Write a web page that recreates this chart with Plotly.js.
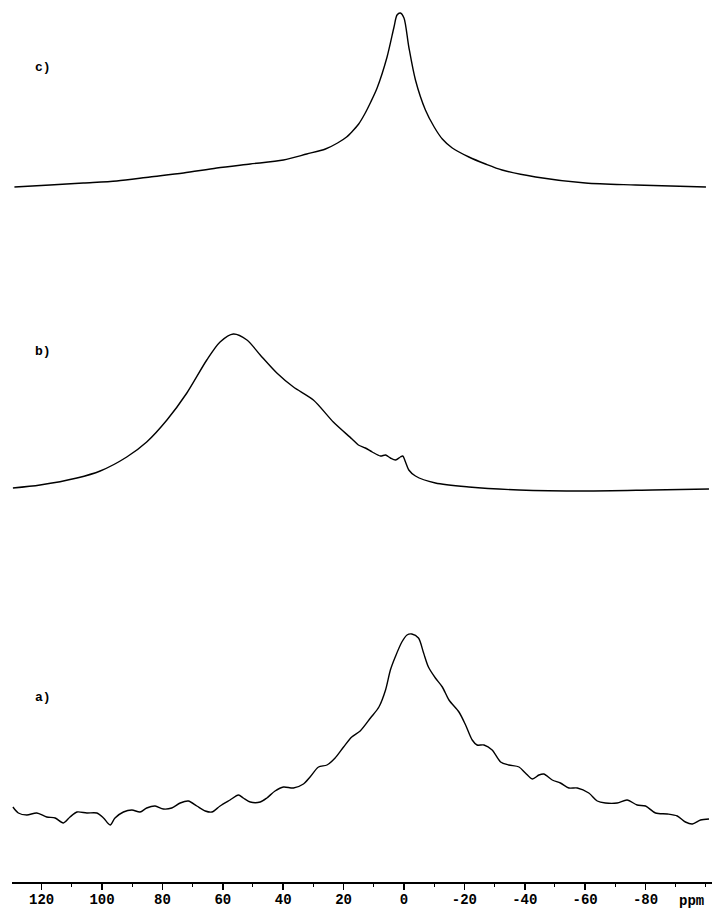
<!DOCTYPE html>
<html>
<head>
<meta charset="utf-8">
<script src="https://cdn.plot.ly/plotly-3.0.1.min.js"></script>
<style>
  html, body { margin: 0; padding: 0; background: #ffffff; }
  #chart { width: 712px; height: 910px; }
</style>
</head>
<body>
<div id="chart"></div>
<script>
// ---- data (chemical shift in ppm, intensity in arbitrary units) ----
const ppmA = [129.5, 127.7, 124.9, 121.6, 118.3, 115.5, 112.8, 110.6, 108.3, 105.0,
  101.7, 99.5, 97.3, 95.7, 92.9, 90.1, 87.4, 85.2, 82.4, 79.7,
  76.9, 74.1, 71.4, 68.6, 65.8, 63.6, 60.9, 57.6, 54.8, 53.2,
  50.9, 47.6, 45.4, 42.7, 39.9, 36.6, 33.3, 31.1, 28.3, 25.5,
  22.8, 20.0, 17.3, 14.5, 11.1, 8.3, 6.1, 4.5, 2.9, 0.7,
  -1.0, -2.6, -4.8, -6.5, -8.1, -10.4, -12.7, -14.9, -18.2, -20.4,
  -22.6, -24.2, -26.5, -29.2, -32.0, -34.7, -38.1, -40.2, -42.5, -44.7,
  -46.3, -49.1, -51.8, -54.6, -57.4, -61.2, -64.0, -66.7, -70.6, -73.9,
  -77.2, -80.0, -83.3, -87.2, -90.5, -93.2, -95.5, -98.2, -101.0];
const intA = [23, 17, 15, 17, 13, 12, 7, 13, 18, 17,
  17, 12, 5, 12, 18, 20, 18, 22, 24, 21,
  22, 27, 29, 24, 19, 18, 24, 30, 35, 32,
  28, 28, 32, 39, 43, 42, 46, 53, 63, 65,
  72, 83, 93, 99, 112, 123, 140, 160, 173, 188,
  195, 196, 192, 177, 163, 152, 143, 130, 118, 105,
  90, 85, 85, 80, 68, 65, 63, 57, 51, 55,
  56, 50, 47, 42, 42, 37, 29, 27, 27, 30,
  25, 24, 17, 16, 14, 8, 6, 10, 11];

const ppmB = [129.5, 120.5, 108.3, 100.6, 91.8, 85.2, 78.5, 71.9, 65.3, 60.9,
  56.5, 52.0, 47.6, 42.1, 36.6, 30.0, 23.4, 17.2, 15.1, 12.8,
  10.5, 7.8, 6.1, 4.5, 2.8, 1.2, 0.4, -0.5, -1.6, -3.8,
  -10.4, -21.5, -38.1, -60.1, -82.2, -101.0];
const intB = [2, 5, 12, 19, 33, 48, 70, 97, 130, 148,
  156, 150, 135, 117, 103, 90, 68, 51, 45, 42,
  38, 34, 35, 32, 30, 33, 34, 28, 20, 14,
  7, 3, 0, -1, 0, 1];

const ppmC = [129.0, 117.2, 106.2, 95.1, 84.1, 73.0, 62.0, 50.9, 39.9, 32.2,
  26.0, 22.0, 19.0, 17.0, 15.0, 13.0, 11.0, 8.9, 5.6, 3.3,
  2.3, 1.2, 0.0, -1.6, -3.8, -7.1, -10.0, -12.7, -16.0, -21.5,
  -27.0, -32.5, -43.6, -60.1, -76.7, -100.0];
const intC = [0, 2, 4, 6, 10, 14, 19, 23, 27, 33,
  38, 44, 50, 56, 63, 73, 85, 99, 130, 160,
  172, 174, 169, 140, 107, 77, 60, 48, 39, 30,
  23, 17, 10, 4, 2, 0];

const tickPpm = [120, 100, 80, 60, 40, 20, 0, -20, -40, -60, -80];
const tickLabels = ['120', '100', '80', '60', '40', '20', '0', '-20', '-40', '-60', '-80'];
const panelLabels = ['a)', 'b)', 'c)'];

// ---- layout constants (pixels) ----
const W = 712, H = 910;
const mL = 12, mR = 0, mT = 0, mB = 28;
const plotH = H - mT - mB;
// baseline pixel rows of each panel (from top of plot area)
const baseA = 830, baseB = 490, baseC = 187;
function rangeFor(basePx) { return [-(plotH - basePx), basePx]; }

const lineStyle = { color: '#000000', width: 1.4, shape: 'spline', smoothing: 0.8 };

const traces = [
  { x: ppmA, y: intA, type: 'scatter', mode: 'lines', line: lineStyle, yaxis: 'y', hoverinfo: 'skip' },
  { x: ppmB, y: intB, type: 'scatter', mode: 'lines', line: lineStyle, yaxis: 'y2', hoverinfo: 'skip' },
  { x: ppmC, y: intC, type: 'scatter', mode: 'lines', line: lineStyle, yaxis: 'y3', hoverinfo: 'skip' }
];

const mono = 'Liberation Mono, Courier New, monospace';
const hiddenY = { visible: false, showgrid: false, zeroline: false, fixedrange: true };

const layout = {
  width: W, height: H,
  margin: { l: mL, r: mR, t: mT, b: mB, pad: 0 },
  paper_bgcolor: '#ffffff', plot_bgcolor: '#ffffff',
  showlegend: false,
  xaxis: {
    range: [129.8, -102],
    showgrid: false, zeroline: false,
    showline: true, linecolor: '#000000', linewidth: 2,
    ticks: 'outside', ticklen: 6, tickwidth: 1.5, tickcolor: '#000000',
    ticklabelstandoff: -3,
    tickmode: 'array', tickvals: tickPpm, ticktext: tickLabels,
    tickfont: { family: mono, size: 14, color: '#000000', weight: 'bold' },
    minor: { tickmode: 'linear', tick0: 0, dtick: 10, ticks: 'outside', ticklen: 3, tickwidth: 1, tickcolor: '#000000', showgrid: false }
  },
  yaxis: Object.assign({ range: rangeFor(baseA) }, hiddenY),
  yaxis2: Object.assign({ range: rangeFor(baseB), overlaying: 'y' }, hiddenY),
  yaxis3: Object.assign({ range: rangeFor(baseC), overlaying: 'y' }, hiddenY),
  annotations: [
    { text: panelLabels[2], xref: 'paper', yref: 'paper', x: (43 - mL) / (W - mL - mR), y: 1 - 67 / plotH, xanchor: 'center', yanchor: 'middle', showarrow: false, font: { family: mono, size: 13, color: '#000000', weight: 'bold' } },
    { text: panelLabels[1], xref: 'paper', yref: 'paper', x: (43 - mL) / (W - mL - mR), y: 1 - 351 / plotH, xanchor: 'center', yanchor: 'middle', showarrow: false, font: { family: mono, size: 13, color: '#000000', weight: 'bold' } },
    { text: panelLabels[0], xref: 'paper', yref: 'paper', x: (43 - mL) / (W - mL - mR), y: 1 - 697 / plotH, xanchor: 'center', yanchor: 'middle', showarrow: false, font: { family: mono, size: 13, color: '#000000', weight: 'bold' } },
    { text: 'ppm', xref: 'paper', yref: 'paper', x: (691 - mL) / (W - mL - mR), y: 0, yshift: -19, xanchor: 'center', yanchor: 'middle', showarrow: false, font: { family: mono, size: 14, color: '#000000', weight: 'bold' } }
  ]
};

Plotly.newPlot('chart', traces, layout, { displayModeBar: false, staticPlot: true });
</script>
</body>
</html>
